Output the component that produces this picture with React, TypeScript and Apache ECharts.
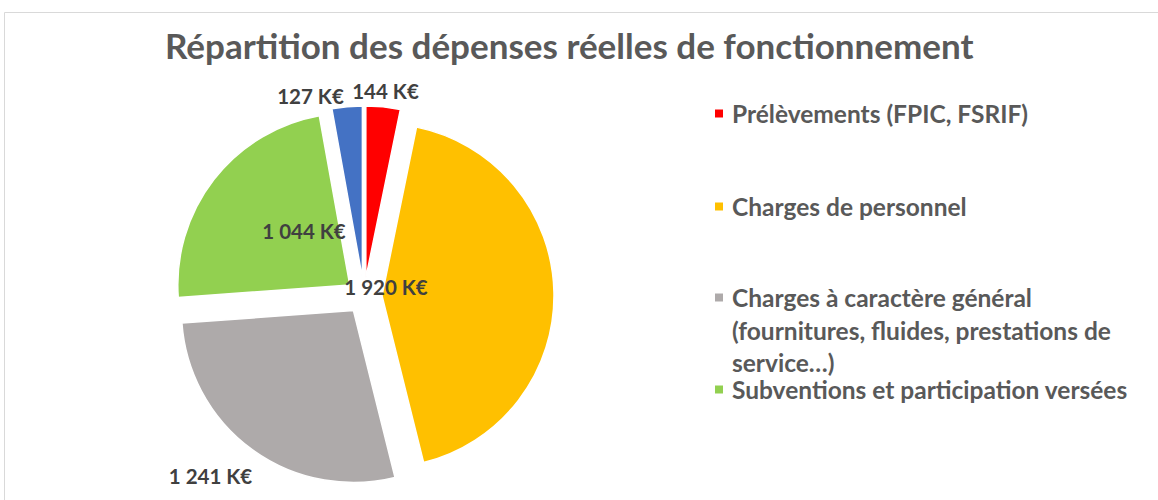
import React, { useEffect, useRef } from "react";
import * as echarts from "echarts";

const titleText = "Répartition des dépenses réelles de fonctionnement";
const categories = [
  "Prélèvements (FPIC, FSRIF)",
  "Charges de personnel",
  "Charges à caractère général (fournitures, fluides, prestations de service…)",
  "Subventions et participation versées",
  "Autres charges",
];
const values = [144, 1920, 1241, 1044, 127];
const valueLabels = ["144 K€", "1 920 K€", "1 241 K€", "1 044 K€", "127 K€"];
const colors = ["#FF0000", "#FFC000", "#AEAAAA", "#92D050", "#4472C4"];
const legendNames = categories.slice(0, 4);
const legendTexts = [
  "Prélèvements (FPIC, FSRIF)",
  "Charges de personnel",
  "\n\nCharges à caractère général\n(fournitures, fluides, prestations de\nservice…)",
  "Subventions et participation versées",
];

const FONT = "Lato, 'Open Sans', sans-serif";
const LINE = 32.5;
// label anchor positions (centre of text), in px
const labelPos: [number, number][] = [
  [385.5, 91],
  [386, 287],
  [210.5, 476],
  [304, 231],
  [310.5, 96],
];
const legendCenters = [113.5, 206.5, 297.5, 389.5];

export default function App() {
  const ref = useRef<HTMLDivElement>(null);
  useEffect(() => {
    if (!ref.current) return;
    const chart = echarts.init(ref.current, undefined, { renderer: "svg" });
    const legends = legendNames.map((name, i) => {
      const nLines = legendTexts[i].split("\n").length;
      return {
        orient: "vertical",
        left: 713,
        top: legendCenters[i] - (nLines * LINE) / 2,
        padding: 0,
        itemWidth: 10,
        itemHeight: 10,
        itemGap: 0,
        icon: "rect",
        selectedMode: false,
        data: [name],
        formatter: () => legendTexts[i],
        textStyle: {
          fontFamily: FONT,
          fontWeight: "bold",
          fontSize: 24.5,
          color: "#595959",
          lineHeight: LINE,
          padding: [0, 0, 0, 3],
        },
      };
    });
    const common = {
      type: "pie",
      center: [364, 296],
      radius: 172,
      startAngle: 90,
      clockwise: true,
      emphasis: { disabled: true },
    };
    chart.setOption({
      animation: false,
      backgroundColor: "#ffffff",
      title: {
        text: titleText,
        left: 165,
        top: 27,
        padding: 0,
        textStyle: {
          fontFamily: FONT,
          fontWeight: "bold",
          fontSize: 35,
          color: "#595959",
        },
      },
      legend: legends,
      graphic: [
        {
          type: "rect",
          shape: { x: 4.5, y: 12.5, width: 1200, height: 600 },
          style: { fill: "none", stroke: "#d9d9d9", lineWidth: 1 },
          silent: true,
        },
      ],
      series: [
        {
          ...common,
          name: "Dépenses",
          selectedMode: "multiple",
          selectedOffset: 18,
          itemStyle: { borderColor: "#ffffff", borderWidth: 1.5 },
          label: { show: false },
          labelLine: { show: false },
          data: categories.map((name, i) => ({
            name,
            value: values[i],
            selected: true,
            itemStyle: { color: colors[i] },
          })),
        },
        {
          ...common,
          name: "Étiquettes",
          silent: true,
          z: 5,
          selectedMode: false,
          itemStyle: { color: "rgba(0,0,0,0)", borderWidth: 0 },
          label: {
            show: true,
            position: "outside",
            alignTo: "none",
            formatter: (p: any) => valueLabels[p.dataIndex],
            fontFamily: FONT,
            fontWeight: "bold",
            fontSize: 20.5,
            color: "#404040",
          },
          labelLine: { show: false },
          labelLayout: (p: any) => ({
            x: labelPos[p.dataIndex][0],
            y: labelPos[p.dataIndex][1],
            align: "center",
            verticalAlign: "middle",
            hideOverlap: false,
          }),
          data: categories.map((name, i) => ({
            name,
            value: values[i],
          })),
        },
      ],
    });
    return () => chart.dispose();
  }, []);
  return (
    <div
      ref={ref}
      style={{ position: "fixed", left: 0, top: 0, width: 1158, height: 500 }}
    />
  );
}
